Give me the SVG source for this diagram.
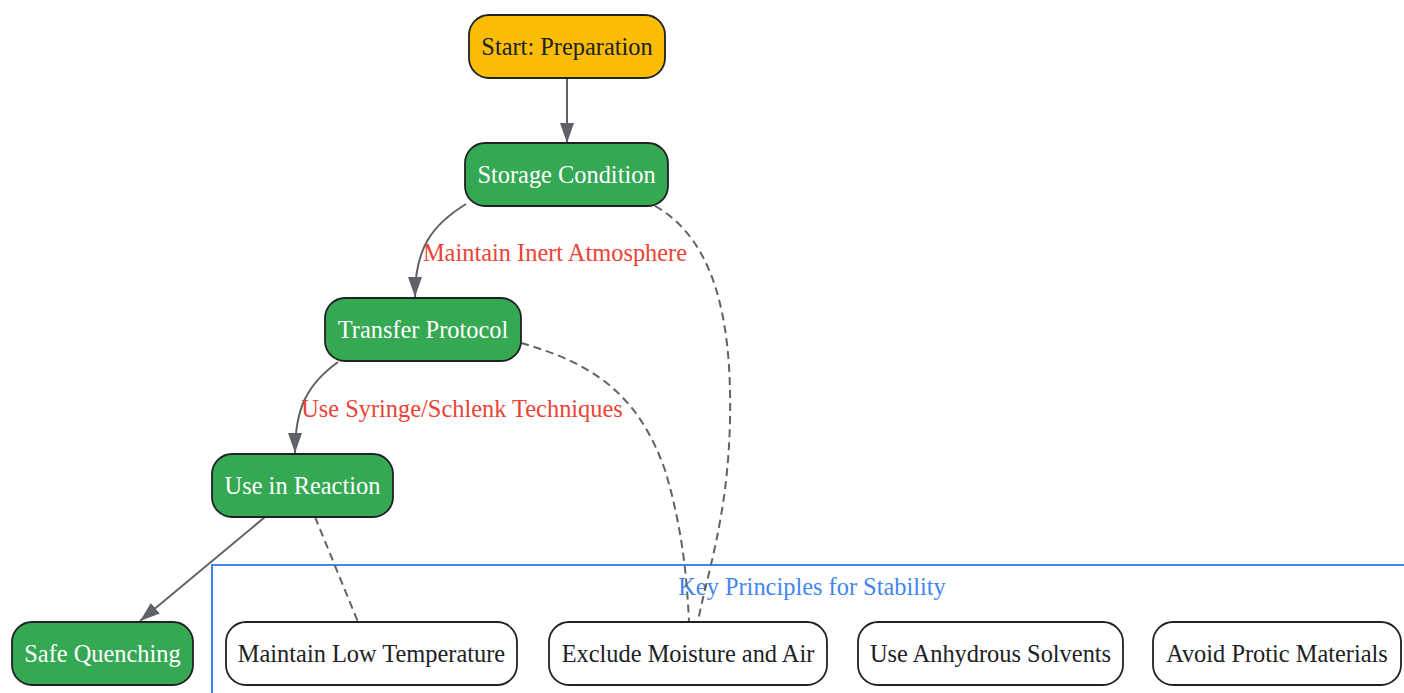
<svg xmlns="http://www.w3.org/2000/svg" width="1404" height="693" viewBox="0 0 1404 693">
<defs>
<marker id="arr" markerUnits="userSpaceOnUse" markerWidth="20" markerHeight="14" viewBox="0 0 20 14" refX="20" refY="7" orient="auto">
<path d="M0,0 L20,7 L0,14 Z" fill="#5f6368"/>
</marker>
<style>
.node rect{stroke:#202124;stroke-width:1.8}
.t{font-family:"Liberation Serif",serif;font-size:24.4px;text-anchor:middle;dominant-baseline:central}
.g rect{fill:#34A853}
.g text{fill:#ffffff}
.w rect{fill:#ffffff}
.w text{fill:#202124}
.e{fill:none;stroke:#5f6368;stroke-width:2}
.d{fill:none;stroke:#5f6368;stroke-width:2;stroke-dasharray:8,5}
.lbl{font-family:"Liberation Serif",serif;font-size:24.4px;fill:#EA4335;text-anchor:middle;dominant-baseline:central}
</style>
</defs>
<rect width="1404" height="693" fill="#ffffff"/>
<g id="cluster">
<rect x="212" y="565" width="1210" height="150" fill="none" stroke="#4285F4" stroke-width="2"/>
<text x="812" y="586" class="t" fill="#4285F4">Key Principles for Stability</text>
</g>
<g id="connectors">
<path class="e" d="M567,78 L567,143" marker-end="url(#arr)"/>
<path class="e" d="M466,204 C432,225 415,248 415,297" marker-end="url(#arr)"/>
<path class="e" d="M338,362 C306,385 295,410 295,453" marker-end="url(#arr)"/>
<path class="e" d="M265,517 L140,621" marker-end="url(#arr)"/>
<path class="d" d="M655,206 C715,240 732,320 730,420 C728,520 705,580 698,622"/>
<path class="d" d="M521,343 C600,365 640,400 665,470 C683,530 687,580 689,622"/>
<path class="d" d="M315,517 L358,622"/>
<text class="lbl" x="555" y="252">Maintain Inert Atmosphere</text>
<text class="lbl" x="462" y="408">Use Syringe/Schlenk Techniques</text>
</g>
<g id="start" class="node">
<rect x="469" y="15" width="196" height="63" rx="20" fill="#FBBC04"/>
<text class="t" x="567" y="46" fill="#202124">Start: Preparation</text>
</g>
<g id="storage" class="node g">
<rect x="465" y="143" width="203" height="63" rx="20"/>
<text class="t" x="566.5" y="174">Storage Condition</text>
</g>
<g id="transfer" class="node g">
<rect x="325" y="298" width="196" height="63" rx="20"/>
<text class="t" x="423" y="329">Transfer Protocol</text>
</g>
<g id="reaction" class="node g">
<rect x="212" y="454" width="181" height="63" rx="20"/>
<text class="t" x="302.5" y="485">Use in Reaction</text>
</g>
<g id="quench" class="node g">
<rect x="12" y="622" width="181" height="63" rx="20"/>
<text class="t" x="102.5" y="653">Safe Quenching</text>
</g>
<g id="lowtemp" class="node w">
<rect x="226" y="622" width="291" height="63" rx="20"/>
<text class="t" x="371.5" y="653">Maintain Low Temperature</text>
</g>
<g id="exclude" class="node w">
<rect x="549" y="622" width="278" height="63" rx="20"/>
<text class="t" x="688" y="653">Exclude Moisture and Air</text>
</g>
<g id="anhydrous" class="node w">
<rect x="858" y="622" width="265" height="63" rx="20"/>
<text class="t" x="990.5" y="653">Use Anhydrous Solvents</text>
</g>
<g id="protic" class="node w">
<rect x="1153" y="622" width="248" height="63" rx="20"/>
<text class="t" x="1277" y="653">Avoid Protic Materials</text>
</g>
</svg>
